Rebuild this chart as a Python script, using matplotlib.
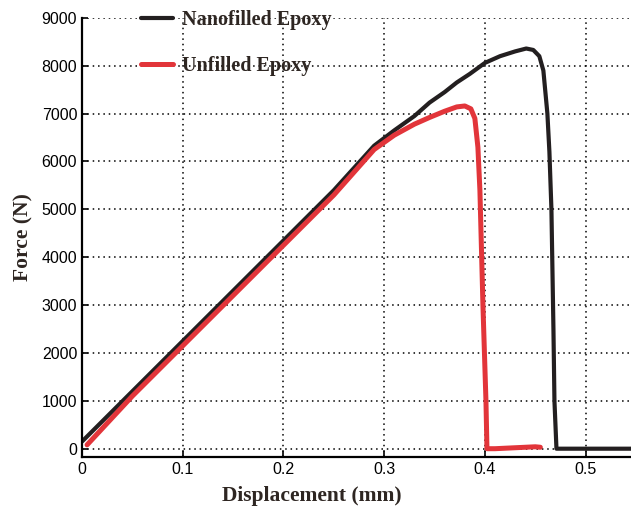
import matplotlib
matplotlib.use("Agg")
import matplotlib.pyplot as plt

# displacement (mm) / force (N)
nano_disp = [0.0, 0.05, 0.10, 0.15, 0.20, 0.25, 0.29, 0.31, 0.33, 0.345, 0.36,
             0.372, 0.385, 0.40, 0.415, 0.43, 0.441, 0.448, 0.454, 0.458,
             0.462, 0.464, 0.466, 0.468, 0.469, 0.471, 0.50, 0.545]
nano_force = [150, 1200, 2250, 3300, 4350, 5400, 6330, 6650, 6950, 7230, 7450,
              7650, 7830, 8060, 8200, 8300, 8360, 8330, 8200, 7900,
              7000, 6200, 5000, 2500, 1000, 0, 0, 0]

unfilled_disp = [0.005, 0.05, 0.10, 0.15, 0.20, 0.25, 0.29, 0.31, 0.33, 0.345,
                 0.36, 0.372, 0.38, 0.386, 0.39, 0.393, 0.395, 0.398, 0.401,
                 0.402, 0.41, 0.43, 0.45, 0.455]
unfilled_force = [80, 1100, 2150, 3200, 4250, 5300, 6250, 6550, 6780, 6920,
                  7050, 7140, 7160, 7100, 6900, 6300, 5400, 3000, 1000,
                  0, 0, 20, 40, 30]

x_ticks = [0, 0.1, 0.2, 0.3, 0.4, 0.5]
x_labels = ["0", "0.1", "0.2", "0.3", "0.4", "0.5"]
y_ticks = [0, 1000, 2000, 3000, 4000, 5000, 6000, 7000, 8000, 9000]

fig = plt.figure(figsize=(6.31, 5.11), dpi=100)
ax = fig.add_axes([0.130, 0.106, 0.870, 0.859])

ax.plot(nano_disp, nano_force, color="#231f20", linewidth=3.0,
        label="Nanofilled Epoxy", solid_capstyle="round")
ax.plot(unfilled_disp, unfilled_force, color="#e2353a", linewidth=3.6,
        label="Unfilled Epoxy", solid_capstyle="round")

ax.set_xlim(0, 0.545)
ax.set_ylim(-170, 9000)
ax.set_xticks(x_ticks)
ax.set_xticklabels(x_labels)
ax.set_yticks(y_ticks)

ax.grid(True, linestyle=(0, (1, 2.5)), color="black", linewidth=1.1)
ax.tick_params(direction="in", length=4, width=1.2, labelsize=11.5,
               colors="black")
for lab in ax.get_xticklabels() + ax.get_yticklabels():
    lab.set_family("Liberation Sans")

ax.spines["top"].set_visible(False)
ax.spines["right"].set_visible(False)
ax.spines["left"].set_linewidth(1.6)
ax.spines["bottom"].set_linewidth(1.6)

ax.set_xlabel("Displacement (mm)", fontsize=15.5, fontweight="bold",
              family="Liberation Serif", color="#2e2622")
ax.xaxis.set_label_coords(0.419, -0.066)
ax.set_ylabel("Force (N)", fontsize=15.5, fontweight="bold",
              family="Liberation Serif", color="#2e2622")
ax.yaxis.set_label_coords(-0.088, 0.5)

leg = ax.legend(loc="upper left", bbox_to_anchor=(0.074, 1.059), frameon=False,
                labelspacing=1.3, handlelength=1.6, handletextpad=0.45,
                prop={"family": "Liberation Serif", "weight": "bold",
                      "size": 14.5})
for t in leg.get_texts():
    t.set_color("#2e2622")

fig.savefig("out.png", dpi=100)
